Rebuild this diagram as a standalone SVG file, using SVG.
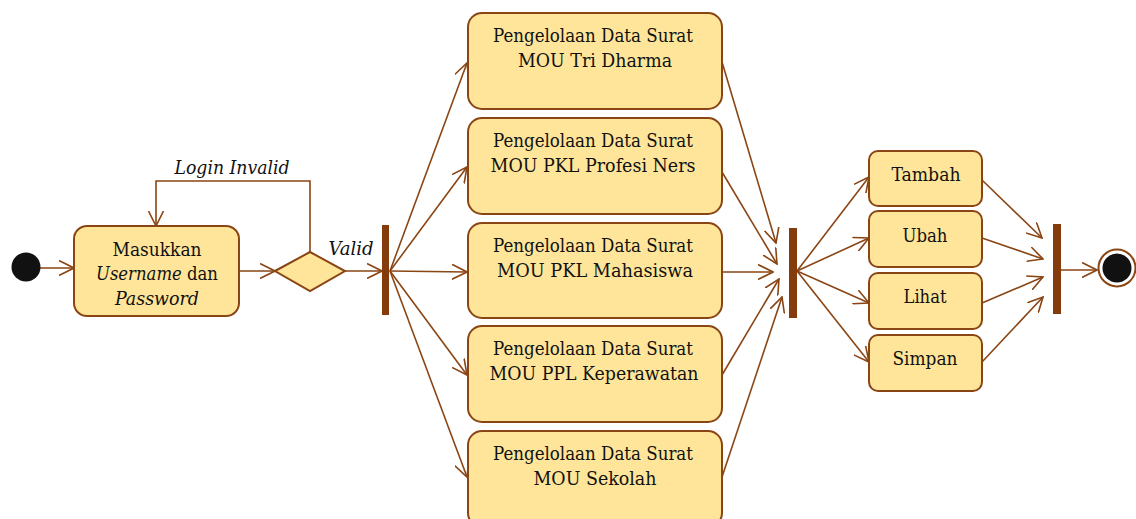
<svg xmlns="http://www.w3.org/2000/svg" width="1136" height="519" viewBox="0 0 1136 519">
<defs>
<style>
.box{fill:#FFE599;stroke:#8A4514;stroke-width:2}
.bar{fill:#843C0C}
.t{font-family:"DejaVu Serif Condensed","DejaVu Serif","Liberation Serif",serif;font-size:19px;fill:#111;text-anchor:middle}
.i{font-style:italic}
.c{fill:none;stroke:#8A4514;stroke-width:1.6}
</style>
<marker id="a" viewBox="0 0 16 16" refX="15" refY="8" markerWidth="16" markerHeight="16" markerUnits="userSpaceOnUse" orient="auto">
<path d="M0,0.5 L15,8 L0,15.5" fill="none" stroke="#8A4514" stroke-width="1.6"/>
</marker>
</defs>
<rect width="1136" height="519" fill="#fff"/>
<g id="connectors" class="c" marker-end="url(#a)">
<line x1="40" y1="268" x2="74" y2="268"/>
<line x1="239" y1="271" x2="275" y2="271"/>
<polyline points="310,252 310,181 156,181 156,226"/>
<line x1="345" y1="271" x2="382" y2="271"/>
<line x1="390" y1="271" x2="467" y2="63"/>
<line x1="390" y1="271" x2="467" y2="167"/>
<line x1="390" y1="271" x2="467" y2="272"/>
<line x1="390" y1="271" x2="467" y2="375"/>
<line x1="390" y1="271" x2="467" y2="477"/>
<line x1="722" y1="62" x2="776" y2="243"/>
<line x1="722" y1="172" x2="777" y2="264"/>
<line x1="722" y1="272" x2="773" y2="272"/>
<line x1="722" y1="375" x2="779" y2="279"/>
<line x1="722" y1="477" x2="782" y2="297"/>
<line x1="797" y1="271" x2="869" y2="177"/>
<line x1="797" y1="271" x2="869" y2="238"/>
<line x1="797" y1="271" x2="869" y2="303"/>
<line x1="797" y1="271" x2="869" y2="362"/>
<line x1="982" y1="180" x2="1042" y2="238"/>
<line x1="982" y1="238" x2="1043" y2="259"/>
<line x1="982" y1="303" x2="1043" y2="277"/>
<line x1="982" y1="362" x2="1043" y2="297"/>
<line x1="1061" y1="270" x2="1097" y2="270"/>
</g>
<g id="labels">
<text class="t i" x="232" y="174" textLength="115" lengthAdjust="spacingAndGlyphs">Login Invalid</text>
<text class="t i" x="351" y="255" textLength="45" lengthAdjust="spacingAndGlyphs">Valid</text>
</g>
<g id="start"><circle cx="26" cy="267" r="14.5" fill="#111"/></g>
<g id="login">
<rect class="box" x="74" y="226" width="165" height="90" rx="13"/>
<text class="t" x="157" y="256" textLength="89" lengthAdjust="spacingAndGlyphs">Masukkan</text>
<text class="t" x="157" y="280" textLength="122" lengthAdjust="spacingAndGlyphs"><tspan class="i">Username</tspan> dan</text>
<text class="t i" x="157" y="305" textLength="84" lengthAdjust="spacingAndGlyphs">Password</text>
</g>
<g id="decision"><polygon class="box" points="275,271 310,252 345,271 310,291"/></g>
<g id="fork1"><rect class="bar" x="382" y="225" width="7" height="90"/></g>
<g id="tridharma">
<rect class="box" x="468" y="13" width="254" height="96" rx="14"/>
<text class="t" x="593" y="42" textLength="200" lengthAdjust="spacingAndGlyphs">Pengelolaan Data Surat</text>
<text class="t" x="595" y="67" textLength="154" lengthAdjust="spacingAndGlyphs">MOU Tri Dharma</text>
</g>
<g id="profesiners">
<rect class="box" x="468" y="118" width="254" height="96" rx="14"/>
<text class="t" x="593" y="147" textLength="200" lengthAdjust="spacingAndGlyphs">Pengelolaan Data Surat</text>
<text class="t" x="593" y="172" textLength="205" lengthAdjust="spacingAndGlyphs">MOU PKL Profesi Ners</text>
</g>
<g id="mahasiswa">
<rect class="box" x="468" y="223" width="254" height="95" rx="14"/>
<text class="t" x="593" y="252" textLength="200" lengthAdjust="spacingAndGlyphs">Pengelolaan Data Surat</text>
<text class="t" x="595" y="277" textLength="196" lengthAdjust="spacingAndGlyphs">MOU PKL Mahasiswa</text>
</g>
<g id="keperawatan">
<rect class="box" x="468" y="326" width="254" height="96" rx="14"/>
<text class="t" x="593" y="355" textLength="200" lengthAdjust="spacingAndGlyphs">Pengelolaan Data Surat</text>
<text class="t" x="594" y="380" textLength="209" lengthAdjust="spacingAndGlyphs">MOU PPL Keperawatan</text>
</g>
<g id="sekolah">
<rect class="box" x="468" y="431" width="254" height="96" rx="14"/>
<text class="t" x="593" y="460" textLength="200" lengthAdjust="spacingAndGlyphs">Pengelolaan Data Surat</text>
<text class="t" x="595" y="485" textLength="123" lengthAdjust="spacingAndGlyphs">MOU Sekolah</text>
</g>
<g id="fork2"><rect class="bar" x="789" y="228" width="8" height="90"/></g>
<g id="tambah">
<rect class="box" x="869" y="151" width="113" height="55" rx="9"/>
<text class="t" x="926" y="181" textLength="69" lengthAdjust="spacingAndGlyphs">Tambah</text>
</g>
<g id="ubah">
<rect class="box" x="869" y="211" width="113" height="56" rx="9"/>
<text class="t" x="925" y="242" textLength="45" lengthAdjust="spacingAndGlyphs">Ubah</text>
</g>
<g id="lihat">
<rect class="box" x="869" y="273" width="113" height="56" rx="9"/>
<text class="t" x="925" y="303" textLength="43" lengthAdjust="spacingAndGlyphs">Lihat</text>
</g>
<g id="simpan">
<rect class="box" x="869" y="335" width="113" height="56" rx="9"/>
<text class="t" x="925" y="365" textLength="65" lengthAdjust="spacingAndGlyphs">Simpan</text>
</g>
<g id="join"><rect class="bar" x="1053" y="224" width="8" height="90"/></g>
<g id="end">
<circle cx="1117" cy="268" r="18.5" fill="#fff" stroke="#8A4514" stroke-width="2"/>
<circle cx="1117" cy="268" r="14.5" fill="#111"/>
</g>
</svg>
